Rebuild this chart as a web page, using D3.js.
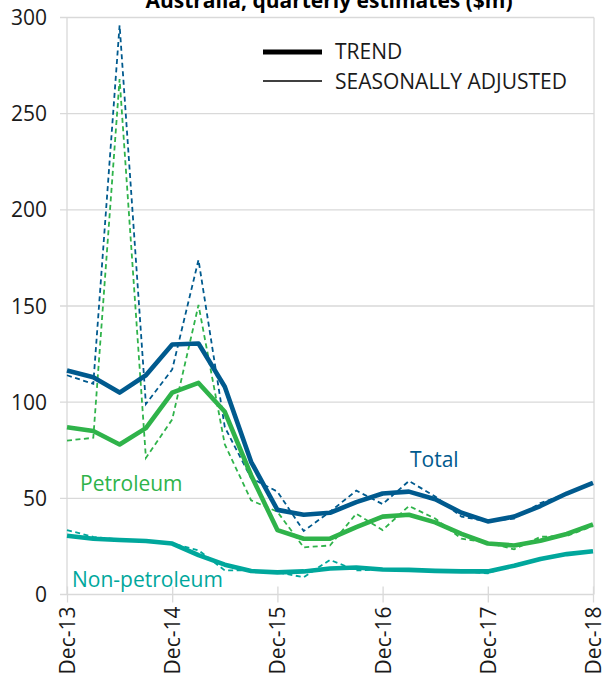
<!DOCTYPE html>
<html>
<head>
<meta charset="utf-8">
<script src="https://cdn.jsdelivr.net/npm/d3@7"></script>
<style>
	body { margin: 0; background: #fff; }
	text { font-family: 'Open Sans', sans-serif; }
</style>
</head>
<body>
<svg id="chart" width="603" height="682"></svg>
<script>
let quarters		= ['Dec-13', 'Mar-14', 'Jun-14', 'Sep-14', 'Dec-14', 'Mar-15', 'Jun-15', 'Sep-15', 'Dec-15', 'Mar-16', 'Jun-16', 'Sep-16', 'Dec-16', 'Mar-17', 'Jun-17', 'Sep-17', 'Dec-17', 'Mar-18', 'Jun-18', 'Sep-18', 'Dec-18'];
let tickQuarters	= ['Dec-13', 'Dec-14', 'Dec-15', 'Dec-16', 'Dec-17', 'Dec-18'];
let yTicks			= [0, 50, 100, 150, 200, 250, 300];

let totalTrend		= [116.5, 113, 105, 114, 130, 130.5, 108, 69, 44, 41.5, 42.5, 48, 52.5, 53.5, 49.5, 42.5, 38, 40.5, 46, 52.5, 58];
let totalSA			= [114, 109.5, 296, 99, 117, 174, 87, 60.5, 53.5, 33, 43, 54, 47, 59, 51, 40.5, 38, 39.5, 47.5, 52.5, 58];
let petTrend		= [87, 85, 78, 86.5, 105, 110, 95, 62, 33.5, 29, 29, 35, 40.5, 41.5, 37.5, 31.5, 26.5, 25.5, 28, 31.5, 36.5];
let petSA			= [80, 81.5, 268, 71, 91, 150.5, 78, 49, 43, 24.5, 25.5, 42, 33.5, 46, 39.5, 29, 27, 23.5, 30, 30.5, 35.5];
let nonTrend		= [30.5, 29, 28.3, 27.8, 26.5, 20.5, 15.5, 12.2, 11.5, 12, 13.5, 14, 13, 12.8, 12.3, 12, 12, 15, 18.5, 21, 22.5];
let nonSA			= [33.5, 30, 28.5, 27.5, 26.5, 23, 12.5, 12.5, 11.5, 9, 18, 12.5, 13, 13, 12.5, 12, 11, 15.5, 18.5, 21.5, 22.5];

let series = [
	{ name: 'Total',			color: '#005a8e', trend: totalTrend,	sa: totalSA,	lx: 410, ly: 467 },
	{ name: 'Petroleum',		color: '#2fb34a', trend: petTrend,		sa: petSA,		lx: 80,  ly: 491 },
	{ name: 'Non-petroleum',	color: '#00a79c', trend: nonTrend,		sa: nonSA,		lx: 72,  ly: 587 }
];

let svg		= d3.select('#chart');
let x		= d3.scaleLinear().domain([0, quarters.length - 1]).range([67, 593]);
let y		= d3.scaleLinear().domain([0, 300]).range([594.5, 17.5]);

// title (partly cut off at the top, as in the source)
svg.append('text').attr('x', 329).attr('y', 8).attr('text-anchor', 'middle')
	.style('font-size', '21px').style('font-weight', 'bold').style('fill', '#000')
	.text('Australia, quarterly estimates ($m)');

// horizontal gridlines
svg.append('g').selectAll('line').data(yTicks).join('line')
	.attr('x1', 60).attr('x2', 594).attr('y1', d => y(d)).attr('y2', d => y(d))
	.style('stroke', '#d9d9d9').style('stroke-width', 1.3);

// plot edges
svg.append('line').attr('x1', x(0)).attr('x2', x(0)).attr('y1', y(300)).attr('y2', y(0)).style('stroke', '#d9d9d9').style('stroke-width', 1.3);
svg.append('line').attr('x1', 594).attr('x2', 594).attr('y1', y(300)).attr('y2', y(0)).style('stroke', '#d9d9d9').style('stroke-width', 1.3);

// y labels
svg.append('g').selectAll('text').data(yTicks).join('text')
	.attr('x', 47).attr('y', d => y(d)).attr('dy', '0.36em').attr('text-anchor', 'end')
	.style('font-size', '21px').style('fill', '#1a1a1a')
	.text(d => d);

// x axis
let xAxis = svg.append('g').attr('transform', 'translate(0,' + y(0) + ')')
	.call(d3.axisBottom(x).tickValues(tickQuarters.map(q => quarters.indexOf(q))).tickFormat(i => quarters[i]).tickSize(8).tickSizeOuter(0));
xAxis.select('.domain').remove();
xAxis.selectAll('.tick line').attr('y1', -8).style('stroke', '#d9d9d9').style('stroke-width', 1.3);
xAxis.selectAll('.tick text')
	.attr('transform', 'rotate(-90)').attr('x', -12).attr('y', 0).attr('dy', '0.36em')
	.attr('text-anchor', 'end').style('font-size', '21px').style('font-family', "'Open Sans', sans-serif").style('fill', '#1a1a1a');

let line = d3.line().x((d, i) => x(i)).y(d => y(d));

// seasonally adjusted, dashed
series.forEach(s => {
	svg.append('path').datum(s.sa).attr('d', line)
		.style('fill', 'none').style('stroke', s.color).style('stroke-width', 1.8)
		.style('stroke-dasharray', '5,3.5');
});

// trend
series.forEach(s => {
	svg.append('path').datum(s.trend).attr('d', line)
		.style('fill', 'none').style('stroke', s.color).style('stroke-width', 4.6)
		.style('stroke-linejoin', 'round');

	svg.append('text').attr('x', s.lx).attr('y', s.ly)
		.style('font-size', '21px').style('fill', s.color)
		.text(s.name);
});

// legend
let legend = svg.append('g');
legend.append('line').attr('x1', 263).attr('x2', 322).attr('y1', 52).attr('y2', 52).style('stroke', '#000').style('stroke-width', 5);
legend.append('line').attr('x1', 263).attr('x2', 322).attr('y1', 81).attr('y2', 81).style('stroke', '#000').style('stroke-width', 1.5);
legend.append('text').attr('x', 335).attr('y', 58.5).style('font-size', '21px').style('fill', '#1a1a1a').text('TREND');
legend.append('text').attr('x', 335).attr('y', 89).style('font-size', '21px').style('fill', '#1a1a1a').text('SEASONALLY ADJUSTED');
</script>
</body>
</html>
